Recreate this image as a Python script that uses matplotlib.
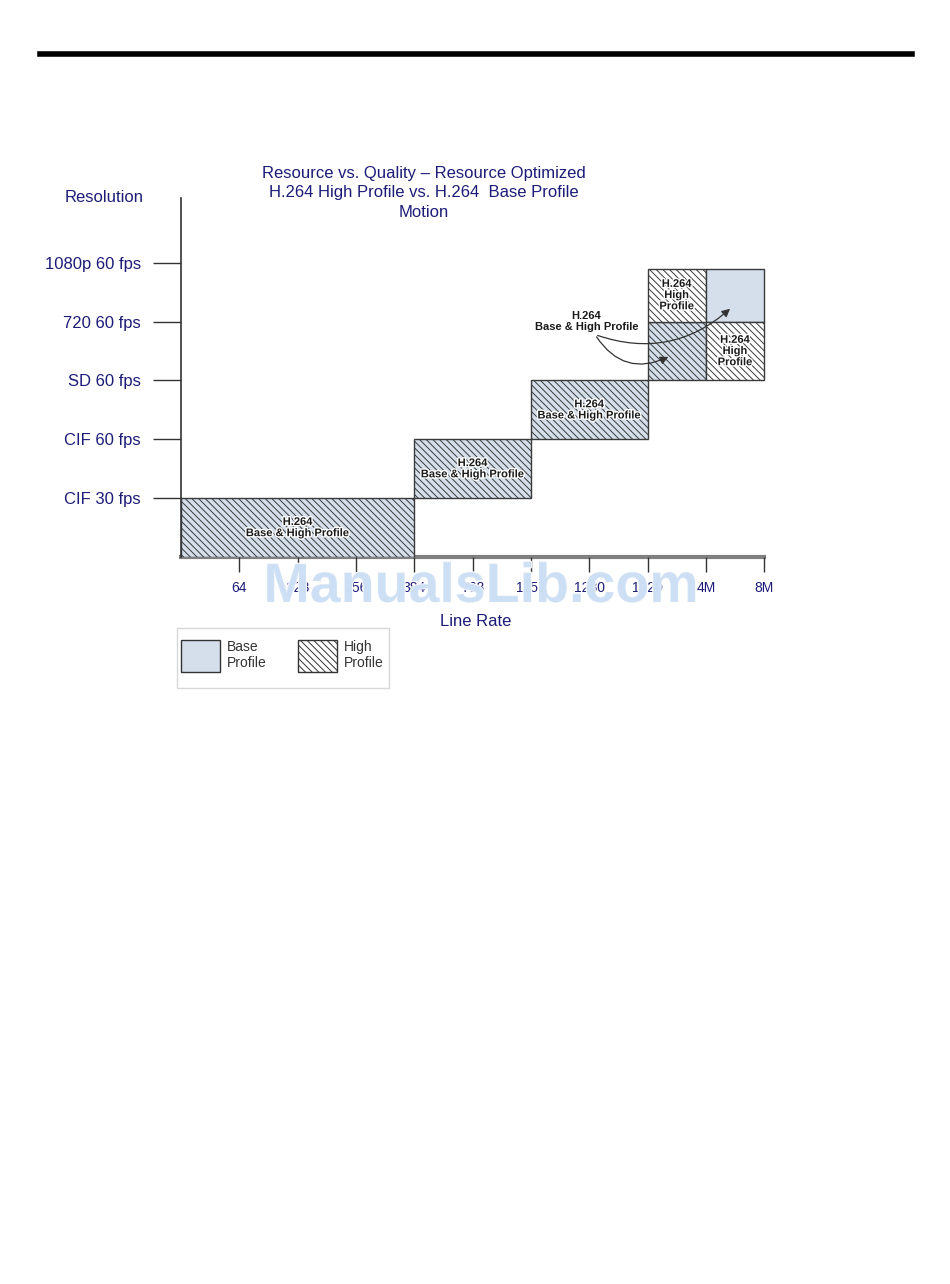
import matplotlib.pyplot as plt
import matplotlib.patheffects as pe
from matplotlib.patches import Rectangle, Patch

plt.rcParams["font.family"] = ["Liberation Sans", "DejaVu Sans"]
plt.rcParams["hatch.color"] = "#8c8c8c"
plt.rcParams["hatch.linewidth"] = 0.7

# Chart data
rate_labels = ["64", "128", "256", "384", "768", "1152", "1280", "1920", "4M", "8M"]
res_labels = ["CIF 30 fps", "CIF 60 fps", "SD 60 fps", "720 60 fps", "1080p 60 fps"]

# blocks: line-rate span (tick index, 0 = origin), resolution span (level), profile
block_x0 = [0, 4, 6, 8, 8, 9, 9]
block_x1 = [4, 6, 8, 9, 9, 10, 10]
block_y0 = [0, 1, 2, 3, 4, 4, 3]
block_y1 = [1, 2, 3, 4, 4.9, 4.9, 4]
block_kind = ["both", "both", "both", "both", "high", "base", "high"]
block_text = ["H.264\nBase & High Profile", "H.264\nBase & High Profile",
              "H.264\nBase & High Profile", "", "H.264\nHigh\nProfile", "",
              "H.264\nHigh\nProfile"]

navy = "#1c1c78"
base_col = "#d4dfeb"
HATCH = "\\\\\\\\\\"

fig = plt.figure(figsize=(9.5, 12.84), dpi=100)
W, H = 950, 1284

# top black rule
fig.add_artist(plt.Line2D([40 / W, 912 / W], [1 - 53.5 / H, 1 - 53.5 / H],
                          color="black", linewidth=4))

ax = fig.add_axes([181 / W, 1 - 557 / H, 589 / W, 359 / H])
ax.set_xlim(0, 10.1)
ax.set_ylim(0, 6.1)

for x0, x1, y0, y1, kind, txt in zip(block_x0, block_x1, block_y0, block_y1,
                                     block_kind, block_text):
    face = "white" if kind == "high" else base_col
    hatch = None if kind == "base" else HATCH
    ax.add_patch(Rectangle((x0, y0), x1 - x0, y1 - y0, facecolor=face,
                           edgecolor="#3a3a3a", linewidth=1.0, hatch=hatch,
                           zorder=2))
    if txt:
        ax.text((x0 + x1) / 2, (y0 + y1) / 2, txt, ha="center", va="center",
                fontsize=8, fontweight="bold", color="#1a1a1a",
                linespacing=1.15, zorder=3,
                path_effects=[pe.withStroke(linewidth=2, foreground="white")])

# arrows from the shared label
ax.text(6.95, 4.0, "H.264\nBase & High Profile", ha="center", va="center",
        fontsize=8, fontweight="bold", color="#1a1a1a", linespacing=1.15)
ax.annotate("", xy=(9.45, 4.25), xytext=(7.1, 3.78),
            arrowprops=dict(arrowstyle="-|>", color="#333333", lw=0.9,
                            mutation_scale=12,
                            connectionstyle="arc3,rad=0.3"), zorder=4)
ax.annotate("", xy=(8.4, 3.42), xytext=(7.1, 3.78),
            arrowprops=dict(arrowstyle="-|>", color="#333333", lw=0.9,
                            mutation_scale=12,
                            connectionstyle="arc3,rad=0.45"), zorder=4)

# axes styling
for s in ["top", "right"]:
    ax.spines[s].set_visible(False)
ax.spines["left"].set_color("#333333")
ax.spines["left"].set_linewidth(1.2)
ax.spines["bottom"].set_color("#808080")
ax.spines["bottom"].set_linewidth(3)
ax.spines["bottom"].set_bounds(0, 10)
ax.spines["bottom"].set_zorder(1)

ax.set_xticks(range(1, len(rate_labels) + 1))
ax.set_xticklabels(rate_labels)
ax.tick_params(axis="x", direction="out", length=11, width=1, color="#333333",
               pad=6, labelsize=10, labelcolor=navy)
ax.set_yticks(range(1, len(res_labels) + 1))
ax.set_yticklabels(res_labels)
ax.tick_params(axis="y", direction="out", length=20, width=1, color="#333333",
               pad=9, labelsize=12, labelcolor=navy)
ax.set_xlabel("Line Rate", fontsize=12, color=navy, labelpad=14)

fig.text(104 / W, 1 - 198 / H, "Resolution", ha="center", va="center",
         fontsize=12, color=navy)
fig.text(424 / W, 1 - 193 / H,
         "Resource vs. Quality \u2013 Resource Optimized\n"
         "H.264 High Profile vs. H.264  Base Profile\nMotion",
         ha="center", va="center", fontsize=12, color=navy, linespacing=1.4)

# legend (frame drawn separately)
fig.add_artist(Rectangle((177 / W, 1 - 688 / H), 212 / W, 60 / H,
                         transform=fig.transFigure, facecolor="white",
                         edgecolor="#d8d8d8", linewidth=1))
handles = [Patch(facecolor=base_col, edgecolor="#333333", linewidth=1),
           Patch(facecolor="white", edgecolor="#333333", linewidth=1,
                 hatch=HATCH)]
leg = fig.legend(handles, ["Base\nProfile", "High\nProfile"], ncol=2,
                 loc="upper left", bbox_to_anchor=(178 / W, 1 - 637 / H),
                 fontsize=10, handlelength=2.8, handleheight=3.15,
                 handletextpad=0.5, columnspacing=2.3, borderpad=0.2,
                 borderaxespad=0, frameon=False)
for t in leg.get_texts():
    t.set_color("#333333")

# watermark
fig.text(481 / W, 1 - 588 / H, "ManualsLib.com", ha="center", va="center",
         fontsize=40, fontweight="bold", color="#cddff4", zorder=10,
         alpha=0.9,
         path_effects=[pe.withStroke(linewidth=1.5, foreground="white")])

fig.savefig("out.png", dpi=100)
